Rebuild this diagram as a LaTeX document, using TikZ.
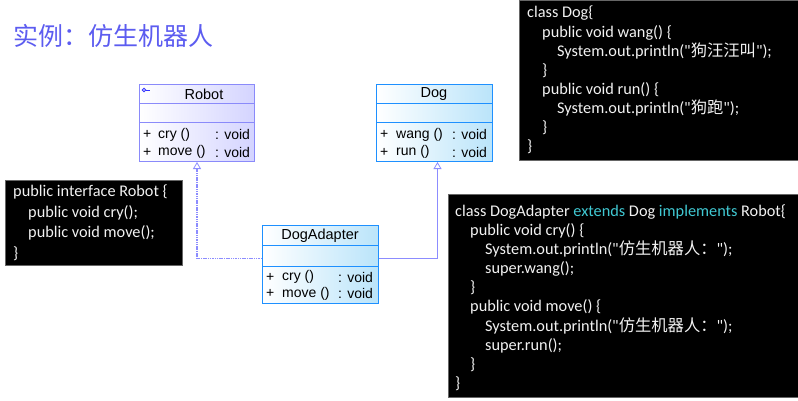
\documentclass[tikz,border=0pt]{standalone}
\usepackage{fontspec}
\setmainfont{Liberation Sans}
\newfontfamily\cjk{Noto Sans CJK SC}
\newfontfamily\codefont{Carlito}
\usetikzlibrary{arrows.meta}
\definecolor{titleblue}{RGB}{92,92,240}
\definecolor{robotborder}{RGB}{138,138,250}
\definecolor{robotfill}{RGB}{212,212,255}
\definecolor{dogborder}{RGB}{30,144,255}
\definecolor{dogfill}{RGB}{186,228,250}
\definecolor{linkcol}{RGB}{140,140,255}
\definecolor{kwcol}{RGB}{64,200,210}
\definecolor{codetext}{RGB}{242,242,242}
\tikzset{
  robotcls/.style={draw=robotborder, line width=1pt, left color=white, right color=robotfill, minimum width=115pt, minimum height=77pt, anchor=north west, inner sep=0pt},
  dogcls/.style={draw=dogborder, line width=1pt, left color=white, right color=dogfill, minimum width=116pt, minimum height=77pt, anchor=north west, inner sep=0pt},
  clsname/.style={font=\fontsize{14.5pt}{16pt}\selectfont, inner sep=0pt},
  optext/.style={font=\fontsize{14pt}{16pt}\selectfont, inner sep=0pt, anchor=west},
  codebox/.style={fill=black, draw=black!60, line width=0.4pt, anchor=north west, inner sep=0pt},
  codetxt/.style={text=codetext, anchor=north west, align=left, inner sep=0pt, font=\codefont\fontsize{16.3pt}{19.1pt}\selectfont},
  realize/.style={draw=linkcol, line width=1.1pt, dash pattern=on 1.5pt off 0.8pt, -{Triangle[open, width=8pt, length=7pt, fill=white, line width=0.8pt]}},
  inherit/.style={draw=linkcol, line width=1.1pt, -{Triangle[open, width=8pt, length=7pt, fill=white, line width=0.8pt]}},
}
\newcommand{\ind}{\hspace*{15pt}}
\begin{document}
\begin{tikzpicture}[x=1pt, y=-1pt]
\useasboundingbox (0,0) rectangle (798,400);
% title
\node[anchor=west, inner sep=0pt, text=titleblue, font=\cjk\fontsize{25pt}{28pt}\selectfont] (title) at (13,36) {实例：仿生机器人};

% Robot class
\node[robotcls] (robot) at (139,84) {};
\draw[robotborder, line width=1pt] (robot.west |- 0,103) -- (robot.east |- 0,103);
\draw[robotborder, line width=1pt] (robot.west |- 0,122) -- (robot.east |- 0,122);
\node[clsname] (robotname) at (204,94) {Robot};
\node[circle, draw=blue!80, line width=0.8pt, inner sep=0pt, minimum size=3.5pt] (iface) at (144,90) {};
\draw[blue!80, line width=0.8pt] (iface.east) -- ++(4,0);
\node[optext] (r1a) at (143,134.5) {+};
\node[optext] (r1b) at (158,134.5) {cry ()};
\node[optext] (r1c) at (215,134.5) {: void};
\node[optext] (r2a) at (143,152) {+};
\node[optext] (r2b) at (158,152) {move ()};
\node[optext] (r2c) at (215,152) {: void};

% Dog class
\node[dogcls] (dog) at (376,84) {};
\draw[dogborder, line width=1pt] (dog.west |- 0,103) -- (dog.east |- 0,103);
\draw[dogborder, line width=1pt] (dog.west |- 0,122) -- (dog.east |- 0,122);
\node[clsname] (dogname) at (434,94) {Dog};
\node[optext] (d1a) at (380,134.5) {+};
\node[optext] (d1b) at (396,134.5) {wang ()};
\node[optext] (d1c) at (452,134.5) {: void};
\node[optext] (d2a) at (380,152) {+};
\node[optext] (d2b) at (396,152) {run ()};
\node[optext] (d2c) at (452,152) {: void};

% DogAdapter class
\node[dogcls, minimum height=78pt] (da) at (262,225) {};
\draw[dogborder, line width=1pt] (da.west |- 0,245) -- (da.east |- 0,245);
\draw[dogborder, line width=1pt] (da.west |- 0,266) -- (da.east |- 0,266);
\node[clsname] (daname) at (320,236) {DogAdapter};
\node[optext] (a1a) at (266,277) {+};
\node[optext] (a1b) at (282,277) {cry ()};
\node[optext] (a1c) at (338,277) {: void};
\node[optext] (a2a) at (266,293.5) {+};
\node[optext] (a2b) at (282,293.5) {move ()};
\node[optext] (a2c) at (338,293.5) {: void};

% connectors
\draw[realize] ([yshift=6pt]da.west) -| (robot.south);
\draw[inherit] ([yshift=6pt]da.east) -| ([xshift=3pt]dog.south);

% Robot interface code
\node[codebox, minimum width=177pt, minimum height=85pt] (robotcode) at (5,180) {};
\node[codetxt, font=\codefont\fontsize{16.3pt}{20.7pt}\selectfont] (robotcodetxt) at (13,184.5) {public interface Robot \{\\\ind public void cry();\\\ind public void move();\\\}};

% Dog code
\node[codebox, minimum width=279pt, minimum height=160pt] (dogcode) at (519,0) {};
\node[codetxt] (dogcodetxt) at (527,6) {class Dog\{\\
\ind public void wang() \{\\
\ind\ind System.out.println("{\cjk 狗汪汪叫}");\\
\ind \}\\
\ind public void run() \{\\
\ind\ind System.out.println("{\cjk 狗跑}");\\
\ind \}\\
\}};

% DogAdapter code
\node[codebox, minimum width=350pt, minimum height=203pt] (dacode) at (448,194) {};
\node[codetxt] (dacodetxt) at (455,204.5) {class DogAdapter {\color{kwcol}extends} Dog {\color{kwcol}implements} Robot\{\\
\ind public void cry() \{\\
\ind\ind System.out.println("{\cjk 仿生机器人：}");\\
\ind\ind super.wang();\\
\ind \}\\
\ind public void move() \{\\
\ind\ind System.out.println("{\cjk 仿生机器人：}");\\
\ind\ind super.run();\\
\ind \}\\
\}};
\end{tikzpicture}
\end{document}
